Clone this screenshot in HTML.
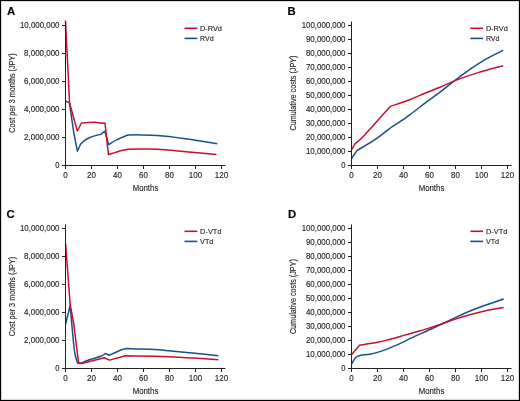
<!DOCTYPE html><html><head><meta charset="utf-8"><style>html,body{margin:0;padding:0;background:#fff}svg,text{font-family:"Liberation Sans", sans-serif}svg{display:block;will-change:transform}</style></head><body>
<svg width="520" height="401" viewBox="0 0 520 401">
<style>text{stroke:#231f20;stroke-width:0.15;paint-order:stroke}</style>
<rect x="0" y="0" width="520" height="401" fill="#fff"/>
<g><text x="7.0" y="15.0" font-size="11.3" font-weight="bold" fill="#000">A</text><text x="59.5" y="167.8" font-size="8.6" text-anchor="end" textLength="4.20" lengthAdjust="spacingAndGlyphs" fill="#231f20">0</text><text x="59.5" y="139.8" font-size="8.6" text-anchor="end" textLength="35.40" lengthAdjust="spacingAndGlyphs" fill="#231f20">2,000,000</text><text x="59.5" y="111.8" font-size="8.6" text-anchor="end" textLength="35.40" lengthAdjust="spacingAndGlyphs" fill="#231f20">4,000,000</text><text x="59.5" y="83.8" font-size="8.6" text-anchor="end" textLength="35.40" lengthAdjust="spacingAndGlyphs" fill="#231f20">6,000,000</text><text x="59.5" y="55.8" font-size="8.6" text-anchor="end" textLength="35.40" lengthAdjust="spacingAndGlyphs" fill="#231f20">8,000,000</text><text x="59.5" y="27.8" font-size="8.6" text-anchor="end" textLength="39.60" lengthAdjust="spacingAndGlyphs" fill="#231f20">10,000,000</text><text x="65.5" y="178.0" font-size="8.6" text-anchor="middle" textLength="4.45" lengthAdjust="spacingAndGlyphs" fill="#231f20">0</text><text x="91.5" y="178.0" font-size="8.6" text-anchor="middle" textLength="8.90" lengthAdjust="spacingAndGlyphs" fill="#231f20">20</text><text x="117.5" y="178.0" font-size="8.6" text-anchor="middle" textLength="8.90" lengthAdjust="spacingAndGlyphs" fill="#231f20">40</text><text x="143.5" y="178.0" font-size="8.6" text-anchor="middle" textLength="8.90" lengthAdjust="spacingAndGlyphs" fill="#231f20">60</text><text x="169.5" y="178.0" font-size="8.6" text-anchor="middle" textLength="8.90" lengthAdjust="spacingAndGlyphs" fill="#231f20">80</text><text x="195.5" y="178.0" font-size="8.6" text-anchor="middle" textLength="13.35" lengthAdjust="spacingAndGlyphs" fill="#231f20">100</text><text x="221.5" y="178.0" font-size="8.6" text-anchor="middle" textLength="13.35" lengthAdjust="spacingAndGlyphs" fill="#231f20">120</text><path d="M62.0 165.5H65.5M62.0 137.5H65.5M62.0 109.5H65.5M62.0 81.5H65.5M62.0 53.5H65.5M62.0 25.5H65.5M65.5 165.5V169.0M91.5 165.5V169.0M117.5 165.5V169.0M143.5 165.5V169.0M169.5 165.5V169.0M195.5 165.5V169.0M221.5 165.5V169.0" stroke="#231f20" stroke-width="1" fill="none"/><text x="145.5" y="191.0" font-size="9.8" text-anchor="middle" textLength="25.6" lengthAdjust="spacingAndGlyphs" fill="#231f20">Months</text><text transform="translate(15.1 93.0) rotate(-90)" font-size="9.2" text-anchor="middle" textLength="79.5" lengthAdjust="spacingAndGlyphs" fill="#231f20">Cost per 3 months (JPY)</text><path d="M184.5 28.3H197.3" stroke="#c8102e" stroke-width="1.6"/><path d="M184.5 38.4H197.3" stroke="#1a4f8b" stroke-width="1.6"/><text x="200.1" y="31.0" font-size="8" textLength="21.8" lengthAdjust="spacingAndGlyphs" fill="#231f20">D-RVd</text><text x="200.1" y="41.0" font-size="8" textLength="13.6" lengthAdjust="spacingAndGlyphs" fill="#231f20">RVd</text><path d="M65.50 101.20L69.30 102.40C69.67 104.83 70.77 112.07 71.50 117.00C72.23 121.93 72.72 126.30 73.70 132.00C74.68 137.70 76.78 148.00 77.40 151.20L80.50 144.20C81.37 143.45 83.95 140.88 85.70 139.70C87.45 138.52 89.37 137.78 91.00 137.10C92.63 136.42 93.88 136.05 95.50 135.60C97.12 135.15 99.83 134.60 100.70 134.40L104.80 131.20L108.60 144.50C110.08 143.65 114.27 140.98 117.50 139.40C120.73 137.82 126.25 135.73 128.00 135.00C130.00 134.98 135.12 134.80 140.00 134.90C144.88 135.00 150.08 135.02 157.30 135.60C164.52 136.18 176.08 137.50 183.30 138.40C190.52 139.30 194.93 140.10 200.60 141.00C206.27 141.90 214.52 143.33 217.30 143.80" fill="none" stroke="#1a4f8b" stroke-width="1.5" stroke-linejoin="round"/><path d="M65.50 20.50L69.60 103.00L77.30 131.00L81.50 123.00C82.58 122.92 85.75 122.63 88.00 122.50C90.25 122.37 92.88 122.10 95.00 122.20C97.12 122.30 99.03 122.97 100.70 123.10C102.37 123.23 104.28 123.02 105.00 123.00L108.40 154.60C109.92 154.12 114.52 152.57 117.50 151.70C120.48 150.83 124.83 149.78 126.30 149.40C128.58 149.32 134.83 148.93 140.00 148.90C145.17 148.87 150.08 148.78 157.30 149.20C164.52 149.62 173.43 150.50 183.30 151.40C193.17 152.30 210.97 154.07 216.50 154.60" fill="none" stroke="#c8102e" stroke-width="1.5" stroke-linejoin="round"/><path d="M65.5 21.5V165.5H225.5" fill="none" stroke="#231f20" stroke-width="1"/></g>
<g><text x="287.5" y="15.0" font-size="11.3" font-weight="bold" fill="#000">B</text><text x="345.5" y="167.8" font-size="8.6" text-anchor="end" textLength="4.20" lengthAdjust="spacingAndGlyphs" fill="#231f20">0</text><text x="345.5" y="153.8" font-size="8.6" text-anchor="end" textLength="39.60" lengthAdjust="spacingAndGlyphs" fill="#231f20">10,000,000</text><text x="345.5" y="139.8" font-size="8.6" text-anchor="end" textLength="39.60" lengthAdjust="spacingAndGlyphs" fill="#231f20">20,000,000</text><text x="345.5" y="125.8" font-size="8.6" text-anchor="end" textLength="39.60" lengthAdjust="spacingAndGlyphs" fill="#231f20">30,000,000</text><text x="345.5" y="111.8" font-size="8.6" text-anchor="end" textLength="39.60" lengthAdjust="spacingAndGlyphs" fill="#231f20">40,000,000</text><text x="345.5" y="97.8" font-size="8.6" text-anchor="end" textLength="39.60" lengthAdjust="spacingAndGlyphs" fill="#231f20">50,000,000</text><text x="345.5" y="83.8" font-size="8.6" text-anchor="end" textLength="39.60" lengthAdjust="spacingAndGlyphs" fill="#231f20">60,000,000</text><text x="345.5" y="69.8" font-size="8.6" text-anchor="end" textLength="39.60" lengthAdjust="spacingAndGlyphs" fill="#231f20">70,000,000</text><text x="345.5" y="55.8" font-size="8.6" text-anchor="end" textLength="39.60" lengthAdjust="spacingAndGlyphs" fill="#231f20">80,000,000</text><text x="345.5" y="41.8" font-size="8.6" text-anchor="end" textLength="39.60" lengthAdjust="spacingAndGlyphs" fill="#231f20">90,000,000</text><text x="345.5" y="27.8" font-size="8.6" text-anchor="end" textLength="43.80" lengthAdjust="spacingAndGlyphs" fill="#231f20">100,000,000</text><text x="351.5" y="178.0" font-size="8.6" text-anchor="middle" textLength="4.45" lengthAdjust="spacingAndGlyphs" fill="#231f20">0</text><text x="377.5" y="178.0" font-size="8.6" text-anchor="middle" textLength="8.90" lengthAdjust="spacingAndGlyphs" fill="#231f20">20</text><text x="403.5" y="178.0" font-size="8.6" text-anchor="middle" textLength="8.90" lengthAdjust="spacingAndGlyphs" fill="#231f20">40</text><text x="429.5" y="178.0" font-size="8.6" text-anchor="middle" textLength="8.90" lengthAdjust="spacingAndGlyphs" fill="#231f20">60</text><text x="455.5" y="178.0" font-size="8.6" text-anchor="middle" textLength="8.90" lengthAdjust="spacingAndGlyphs" fill="#231f20">80</text><text x="481.5" y="178.0" font-size="8.6" text-anchor="middle" textLength="13.35" lengthAdjust="spacingAndGlyphs" fill="#231f20">100</text><text x="507.5" y="178.0" font-size="8.6" text-anchor="middle" textLength="13.35" lengthAdjust="spacingAndGlyphs" fill="#231f20">120</text><path d="M348.0 165.5H351.5M348.0 151.5H351.5M348.0 137.5H351.5M348.0 123.5H351.5M348.0 109.5H351.5M348.0 95.5H351.5M348.0 81.5H351.5M348.0 67.5H351.5M348.0 53.5H351.5M348.0 39.5H351.5M348.0 25.5H351.5M351.5 165.5V169.0M377.5 165.5V169.0M403.5 165.5V169.0M429.5 165.5V169.0M455.5 165.5V169.0M481.5 165.5V169.0M507.5 165.5V169.0" stroke="#231f20" stroke-width="1" fill="none"/><text x="431.5" y="191.0" font-size="9.8" text-anchor="middle" textLength="25.6" lengthAdjust="spacingAndGlyphs" fill="#231f20">Months</text><text transform="translate(295.9 93.0) rotate(-90)" font-size="9.2" text-anchor="middle" textLength="75.0" lengthAdjust="spacingAndGlyphs" fill="#231f20">Cumulative costs (JPY)</text><path d="M470.3 28.3H483.1" stroke="#c8102e" stroke-width="1.6"/><path d="M470.3 38.4H483.1" stroke="#1a4f8b" stroke-width="1.6"/><text x="485.9" y="31.0" font-size="8" textLength="21.8" lengthAdjust="spacingAndGlyphs" fill="#231f20">D-RVd</text><text x="485.9" y="41.0" font-size="8" textLength="13.6" lengthAdjust="spacingAndGlyphs" fill="#231f20">RVd</text><path d="M351.50 158.50L356.90 150.60C359.92 148.78 369.32 143.55 375.00 139.70C380.68 135.85 388.33 129.53 391.00 127.50C393.67 125.72 401.33 120.85 407.00 116.80C412.67 112.75 419.50 107.30 425.00 103.20C430.50 99.10 435.00 96.02 440.00 92.20C445.00 88.38 450.00 84.10 455.00 80.30C460.00 76.50 465.00 72.85 470.00 69.40C475.00 65.95 479.47 62.80 485.00 59.60C490.53 56.40 500.17 51.77 503.20 50.20" fill="none" stroke="#1a4f8b" stroke-width="1.5" stroke-linejoin="round"/><path d="M351.50 149.80L355.00 143.80C356.62 142.32 358.82 141.13 364.70 134.90C370.58 128.67 386.03 111.15 390.30 106.40C393.42 105.33 403.22 102.20 409.00 100.00C414.78 97.80 419.83 95.32 425.00 93.20C430.17 91.08 435.00 89.40 440.00 87.30C445.00 85.20 448.77 83.00 455.00 80.60C461.23 78.20 469.37 75.38 477.40 72.90C485.43 70.42 498.90 66.90 503.20 65.70" fill="none" stroke="#c8102e" stroke-width="1.5" stroke-linejoin="round"/><path d="M351.5 21.5V165.5H511.5" fill="none" stroke="#231f20" stroke-width="1"/></g>
<g><text x="6.5" y="218.0" font-size="11.3" font-weight="bold" fill="#000">C</text><text x="59.5" y="370.8" font-size="8.6" text-anchor="end" textLength="4.20" lengthAdjust="spacingAndGlyphs" fill="#231f20">0</text><text x="59.5" y="342.8" font-size="8.6" text-anchor="end" textLength="35.40" lengthAdjust="spacingAndGlyphs" fill="#231f20">2,000,000</text><text x="59.5" y="314.8" font-size="8.6" text-anchor="end" textLength="35.40" lengthAdjust="spacingAndGlyphs" fill="#231f20">4,000,000</text><text x="59.5" y="286.8" font-size="8.6" text-anchor="end" textLength="35.40" lengthAdjust="spacingAndGlyphs" fill="#231f20">6,000,000</text><text x="59.5" y="258.8" font-size="8.6" text-anchor="end" textLength="35.40" lengthAdjust="spacingAndGlyphs" fill="#231f20">8,000,000</text><text x="59.5" y="230.8" font-size="8.6" text-anchor="end" textLength="39.60" lengthAdjust="spacingAndGlyphs" fill="#231f20">10,000,000</text><text x="65.5" y="381.0" font-size="8.6" text-anchor="middle" textLength="4.45" lengthAdjust="spacingAndGlyphs" fill="#231f20">0</text><text x="91.5" y="381.0" font-size="8.6" text-anchor="middle" textLength="8.90" lengthAdjust="spacingAndGlyphs" fill="#231f20">20</text><text x="117.5" y="381.0" font-size="8.6" text-anchor="middle" textLength="8.90" lengthAdjust="spacingAndGlyphs" fill="#231f20">40</text><text x="143.5" y="381.0" font-size="8.6" text-anchor="middle" textLength="8.90" lengthAdjust="spacingAndGlyphs" fill="#231f20">60</text><text x="169.5" y="381.0" font-size="8.6" text-anchor="middle" textLength="8.90" lengthAdjust="spacingAndGlyphs" fill="#231f20">80</text><text x="195.5" y="381.0" font-size="8.6" text-anchor="middle" textLength="13.35" lengthAdjust="spacingAndGlyphs" fill="#231f20">100</text><text x="221.5" y="381.0" font-size="8.6" text-anchor="middle" textLength="13.35" lengthAdjust="spacingAndGlyphs" fill="#231f20">120</text><path d="M62.0 368.5H65.5M62.0 340.5H65.5M62.0 312.5H65.5M62.0 284.5H65.5M62.0 256.5H65.5M62.0 228.5H65.5M65.5 368.5V372.0M91.5 368.5V372.0M117.5 368.5V372.0M143.5 368.5V372.0M169.5 368.5V372.0M195.5 368.5V372.0M221.5 368.5V372.0" stroke="#231f20" stroke-width="1" fill="none"/><text x="145.5" y="394.0" font-size="9.8" text-anchor="middle" textLength="25.6" lengthAdjust="spacingAndGlyphs" fill="#231f20">Months</text><text transform="translate(15.1 296.6) rotate(-90)" font-size="9.2" text-anchor="middle" textLength="79.5" lengthAdjust="spacingAndGlyphs" fill="#231f20">Cost per 3 months (JPY)</text><path d="M184.5 231.3H197.3" stroke="#c8102e" stroke-width="1.6"/><path d="M184.5 241.4H197.3" stroke="#1a4f8b" stroke-width="1.6"/><text x="200.1" y="234.0" font-size="8" textLength="21.4" lengthAdjust="spacingAndGlyphs" fill="#231f20">D-VTd</text><text x="200.1" y="244.0" font-size="8" textLength="13.2" lengthAdjust="spacingAndGlyphs" fill="#231f20">VTd</text><path d="M65.60 324.00L70.20 305.50C70.63 310.42 72.03 327.08 72.80 335.00C73.57 342.92 74.00 348.32 74.80 353.00C75.60 357.68 77.13 361.42 77.60 363.10L81.50 363.10C82.58 362.63 84.78 361.43 88.00 360.30C91.22 359.17 97.90 357.43 100.80 356.30C103.70 355.17 104.63 353.97 105.40 353.50L109.40 355.20C111.33 354.33 118.12 351.10 121.00 350.00C123.88 348.90 125.75 348.83 126.70 348.60C128.25 348.65 131.28 348.77 136.00 348.90C140.72 349.03 149.58 349.08 155.00 349.40C160.42 349.72 161.83 350.15 168.50 350.80C175.17 351.45 186.68 352.48 195.00 353.30C203.32 354.12 214.50 355.30 218.40 355.70" fill="none" stroke="#1a4f8b" stroke-width="1.5" stroke-linejoin="round"/><path d="M65.60 244.00L70.20 305.00L73.80 324.00L78.60 363.30L81.50 363.50L104.30 357.80L109.40 360.10L125.60 355.80C127.33 355.83 128.85 355.85 136.00 356.00C143.15 356.15 159.88 356.42 168.50 356.70C177.12 356.98 179.38 357.20 187.70 357.70C196.02 358.20 213.28 359.37 218.40 359.70" fill="none" stroke="#c8102e" stroke-width="1.5" stroke-linejoin="round"/><path d="M65.5 224.5V368.5H225.5" fill="none" stroke="#231f20" stroke-width="1"/></g>
<g><text x="288.0" y="218.0" font-size="11.3" font-weight="bold" fill="#000">D</text><text x="345.5" y="370.8" font-size="8.6" text-anchor="end" textLength="4.20" lengthAdjust="spacingAndGlyphs" fill="#231f20">0</text><text x="345.5" y="356.8" font-size="8.6" text-anchor="end" textLength="39.60" lengthAdjust="spacingAndGlyphs" fill="#231f20">10,000,000</text><text x="345.5" y="342.8" font-size="8.6" text-anchor="end" textLength="39.60" lengthAdjust="spacingAndGlyphs" fill="#231f20">20,000,000</text><text x="345.5" y="328.8" font-size="8.6" text-anchor="end" textLength="39.60" lengthAdjust="spacingAndGlyphs" fill="#231f20">30,000,000</text><text x="345.5" y="314.8" font-size="8.6" text-anchor="end" textLength="39.60" lengthAdjust="spacingAndGlyphs" fill="#231f20">40,000,000</text><text x="345.5" y="300.8" font-size="8.6" text-anchor="end" textLength="39.60" lengthAdjust="spacingAndGlyphs" fill="#231f20">50,000,000</text><text x="345.5" y="286.8" font-size="8.6" text-anchor="end" textLength="39.60" lengthAdjust="spacingAndGlyphs" fill="#231f20">60,000,000</text><text x="345.5" y="272.8" font-size="8.6" text-anchor="end" textLength="39.60" lengthAdjust="spacingAndGlyphs" fill="#231f20">70,000,000</text><text x="345.5" y="258.8" font-size="8.6" text-anchor="end" textLength="39.60" lengthAdjust="spacingAndGlyphs" fill="#231f20">80,000,000</text><text x="345.5" y="244.8" font-size="8.6" text-anchor="end" textLength="39.60" lengthAdjust="spacingAndGlyphs" fill="#231f20">90,000,000</text><text x="345.5" y="230.8" font-size="8.6" text-anchor="end" textLength="43.80" lengthAdjust="spacingAndGlyphs" fill="#231f20">100,000,000</text><text x="351.5" y="381.0" font-size="8.6" text-anchor="middle" textLength="4.45" lengthAdjust="spacingAndGlyphs" fill="#231f20">0</text><text x="377.5" y="381.0" font-size="8.6" text-anchor="middle" textLength="8.90" lengthAdjust="spacingAndGlyphs" fill="#231f20">20</text><text x="403.5" y="381.0" font-size="8.6" text-anchor="middle" textLength="8.90" lengthAdjust="spacingAndGlyphs" fill="#231f20">40</text><text x="429.5" y="381.0" font-size="8.6" text-anchor="middle" textLength="8.90" lengthAdjust="spacingAndGlyphs" fill="#231f20">60</text><text x="455.5" y="381.0" font-size="8.6" text-anchor="middle" textLength="8.90" lengthAdjust="spacingAndGlyphs" fill="#231f20">80</text><text x="481.5" y="381.0" font-size="8.6" text-anchor="middle" textLength="13.35" lengthAdjust="spacingAndGlyphs" fill="#231f20">100</text><text x="507.5" y="381.0" font-size="8.6" text-anchor="middle" textLength="13.35" lengthAdjust="spacingAndGlyphs" fill="#231f20">120</text><path d="M348.0 368.5H351.5M348.0 354.5H351.5M348.0 340.5H351.5M348.0 326.5H351.5M348.0 312.5H351.5M348.0 298.5H351.5M348.0 284.5H351.5M348.0 270.5H351.5M348.0 256.5H351.5M348.0 242.5H351.5M348.0 228.5H351.5M351.5 368.5V372.0M377.5 368.5V372.0M403.5 368.5V372.0M429.5 368.5V372.0M455.5 368.5V372.0M481.5 368.5V372.0M507.5 368.5V372.0" stroke="#231f20" stroke-width="1" fill="none"/><text x="431.5" y="394.0" font-size="9.8" text-anchor="middle" textLength="25.6" lengthAdjust="spacingAndGlyphs" fill="#231f20">Months</text><text transform="translate(295.9 296.6) rotate(-90)" font-size="9.2" text-anchor="middle" textLength="75.0" lengthAdjust="spacingAndGlyphs" fill="#231f20">Cumulative costs (JPY)</text><path d="M470.3 231.3H483.1" stroke="#c8102e" stroke-width="1.6"/><path d="M470.3 241.4H483.1" stroke="#1a4f8b" stroke-width="1.6"/><text x="485.9" y="234.0" font-size="8" textLength="21.4" lengthAdjust="spacingAndGlyphs" fill="#231f20">D-VTd</text><text x="485.9" y="244.0" font-size="8" textLength="13.2" lengthAdjust="spacingAndGlyphs" fill="#231f20">VTd</text><path d="M351.50 364.30C352.15 363.20 353.98 359.18 355.40 357.70C356.82 356.22 357.57 355.98 360.00 355.40C362.43 354.82 366.53 354.87 370.00 354.20C373.47 353.53 376.47 352.87 380.80 351.40C385.13 349.93 390.88 347.65 396.00 345.40C401.12 343.15 405.83 340.55 411.50 337.90C417.17 335.25 424.87 331.87 430.00 329.50C435.13 327.13 437.37 326.02 442.30 323.70C447.23 321.38 453.83 318.18 459.60 315.60C465.37 313.02 469.55 310.97 476.90 308.20C484.25 305.43 499.23 300.53 503.70 299.00" fill="none" stroke="#1a4f8b" stroke-width="1.5" stroke-linejoin="round"/><path d="M351.50 354.80L359.50 345.20C362.53 344.72 372.62 343.30 377.70 342.30C382.78 341.30 385.65 340.35 390.00 339.20C394.35 338.05 399.18 336.68 403.80 335.40C408.42 334.12 414.17 332.50 417.70 331.50C421.23 330.50 420.90 330.70 425.00 329.40C429.10 328.10 436.53 325.65 442.30 323.70C448.07 321.75 452.38 319.85 459.60 317.70C466.82 315.55 478.25 312.48 485.60 310.80C492.95 309.12 500.68 308.13 503.70 307.60" fill="none" stroke="#c8102e" stroke-width="1.5" stroke-linejoin="round"/><path d="M351.5 224.5V368.5H511.5" fill="none" stroke="#231f20" stroke-width="1"/></g>
<rect x="0.5" y="0.5" width="519" height="400" fill="none" stroke="#000" stroke-width="1.3"/>
</svg></body></html>
